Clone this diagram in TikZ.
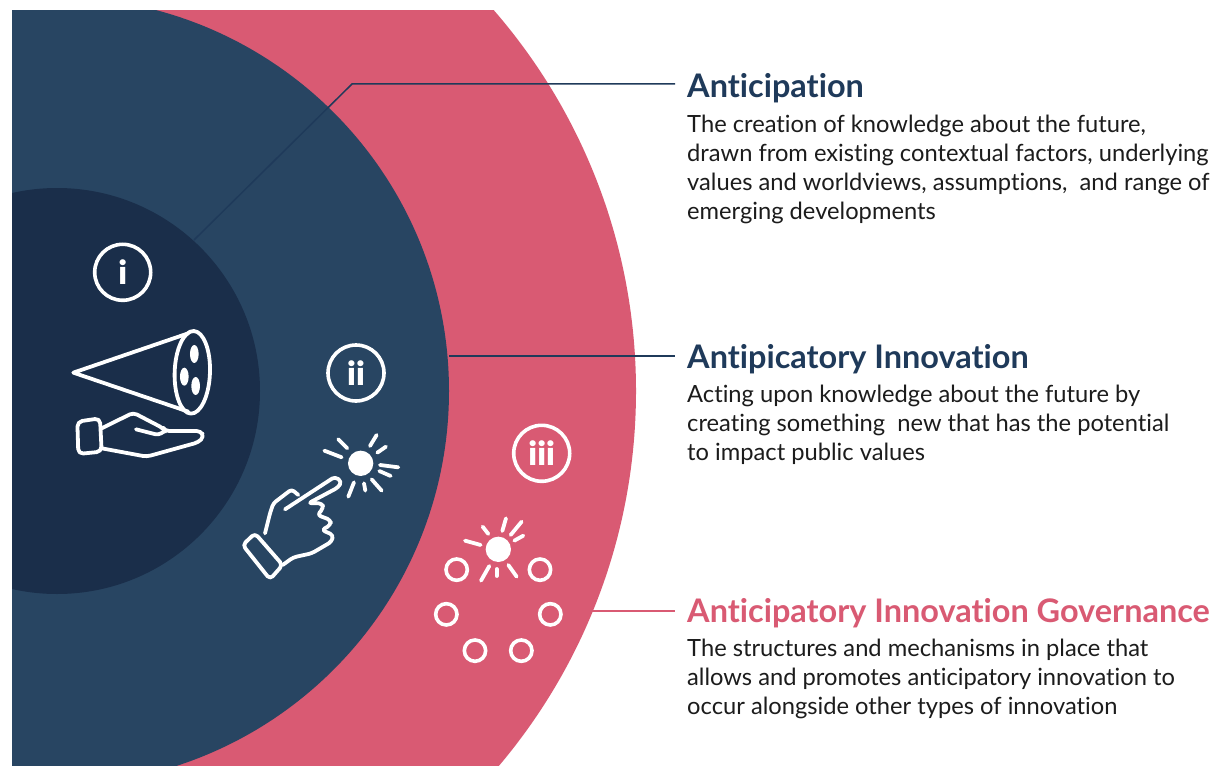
\documentclass[tikz,border=0pt]{standalone}
\usepackage{fontspec}
\setmainfont{Lato}[Ligatures=NoCommon]
\newfontfamily\badgefont{Lato Black}
\definecolor{navy}{HTML}{1F3A5A}
\definecolor{midblue}{HTML}{284562}
\definecolor{inner}{HTML}{1A2E4A}
\definecolor{pinkc}{HTML}{D95A73}
\definecolor{bodyc}{HTML}{1C1C1C}
\tikzset{
  ic/.style={draw=white,line width=3.8pt,line cap=round,line join=round},
  badge/.style={circle,draw=white,line width=3.6pt,minimum size=56pt,inner sep=0pt,text=white,font=\fontsize{33}{33}\selectfont\badgefont},
  head/.style={anchor=north west,inner sep=0pt,font=\fontsize{32.45}{36}\selectfont\bfseries},
  para/.style={anchor=north west,inner sep=0pt,align=left,text=bodyc,font=\fontsize{23.7}{28.8}\selectfont},
  zoomA/.style={shift={(50,230)},x=0.3333pt,y=-0.3333pt},
  zoomB/.style={shift={(230,340)},x=0.3333pt,y=-0.3333pt},
  zoomC/.style={shift={(420,420)},x=0.3333pt,y=-0.3333pt},
  zoomD/.style={shift={(240,470)},x=0.3333pt,y=-0.3333pt},
}
\begin{document}
\begin{tikzpicture}[x=1pt,y=-1pt]
\useasboundingbox (0,0) rectangle (1214,765);
\fill[white] (0,0) rectangle (1214,765);
\begin{scope}
\clip (12,11) rectangle (1214,765);
\fill[pinkc] (55,391) circle[radius=581];
\fill[midblue] (55,391) circle[radius=394];
\fill[inner] (57,391) circle[radius=203];
\end{scope}
% leaders
\coordinate (a0) at (194,240);
\coordinate (a1) at (352,84);
\coordinate (a2) at (675,84);
\coordinate (b0) at (449,356);
\coordinate (b1) at (675,356);
\coordinate (c0) at (592,611);
\coordinate (c1) at (675,611);
\draw[navy,line width=1.5pt] (a0) -- (a1) -- (a2);
\draw[navy,line width=1.5pt] (b0) -- (b1);
\draw[pinkc,line width=1.5pt] (c0) -- (c1);
% badges
\node[badge] (bi) at (122.7,272.3) {i};
\node[badge] (bii) at (356,373) {ii};
\node[badge] (biii) at (541.7,453.3) {iii};
% cone and hand
\begin{scope}[zoomA]
\draw[ic] (415,310) -- (70,428) -- (415,545);
\draw[ic,rotate around={-2:(427,427)}] (427,427) ellipse[x radius=53,y radius=124];
\fill[white] (433,372) ellipse[x radius=13,y radius=27];
\fill[white] (403,440) ellipse[x radius=13,y radius=27];
\fill[white] (437,468) ellipse[x radius=13,y radius=27];
\draw[ic,rounded corners=5pt] (82,575) -- (150,565) -- (155,665) -- (85,672) -- cycle;
\draw[ic,rounded corners=4pt] (155,595) -- (250,548) -- (340,595) -- (345,603) -- (452,603) -- (462,620) -- (445,637) -- (290,680) -- (155,655);
\draw[ic,rounded corners=3pt] (258,598) -- (325,615) -- (345,603);
\end{scope}
% spark
\begin{scope}[zoomB]
\fill[white] (392,370) circle[radius=38];
\foreach \xa/\ya/\xb/\yb in {283/332/335/352,325/298/352/325,420/318/440/285,442/338/468/320,450/375/505/382,448/393/482/408,425/418/455/452,402/430/406/452,372/427/355/470}
  \draw[ic] (\xa,\ya) -- (\xb,\yb);
\end{scope}
% pointing hand
\begin{scope}[zoomD]
\draw[ic,rounded corners=4pt] (45,190) -- (128,285) -- (90,328) -- (8,225) -- cycle;
\draw[ic,rounded corners=3pt] (75,190) -- (90,130) -- (100,100) -- (155,58) -- (175,75);
\draw[ic,rounded corners=3.5pt] (135,118) -- (285,20) -- (305,35) -- (295,52) -- (205,100) -- (247,100) -- (250,115) -- (232,135) -- (272,150) -- (272,165) -- (245,180) -- (280,195) -- (275,215) -- (215,250) -- (160,262) -- (128,285);
\end{scope}
% spark and ring
\begin{scope}[zoomC]
\fill[white] (235,388) circle[radius=38];
\foreach \xa/\ya/\xb/\yb in {135/362/182/375,188/320/205/342,258/295/247/333,305/305/272/345,310/347/283/362,265/435/290/470,230/447/230/468,208/438/183/482}
  \draw[ic] (\xa,\ya) -- (\xb,\yb);
\foreach \xa/\ya in {110/449,360/449,79/583,391/583,165/692,304/692}
  \draw[white,line width=3.6pt] (\xa,\ya) circle[radius=32];
\end{scope}
% text
\node[head,text=navy] (h1) at (687,73) {Anticipation};
\node[para] (p1) at (687,115) {The creation of knowledge about the future,\\drawn from existing contextual factors, underlying\\values and worldviews, assumptions,\ \ and range of\\emerging developments};
\node[head,text=navy] (h2) at (687,344) {Antipicatory Innovation};
\node[para] (p2) at (687,385) {Acting upon knowledge about the future by\\creating something\ \ new that has the potential\\to impact public values};
\node[head,text=pinkc] (h3) at (687,598) {Anticipatory Innovation Governance};
\node[para] (p3) at (687,639) {The structures and mechanisms in place that\\allows and promotes anticipatory innovation to\\occur alongside other types of innovation};
\end{tikzpicture}
\end{document}
